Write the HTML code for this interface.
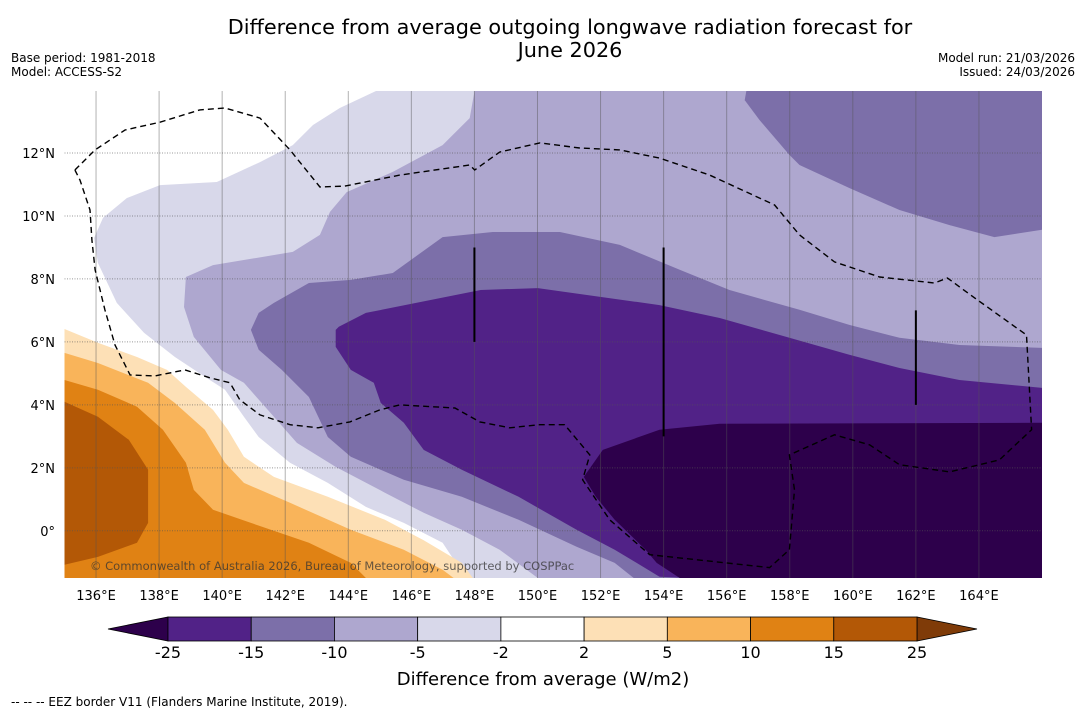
<!DOCTYPE html>
<html><head><meta charset="utf-8">
<style>
body{margin:0;background:#fff;width:1085px;height:713px;overflow:hidden;font-family:"Liberation Sans","DejaVu Sans",sans-serif;}
svg text{font-family:"DejaVu Sans","Liberation Sans",sans-serif;}
</style></head>
<body>
<svg id="c" width="1085" height="713" viewBox="0 0 1085 713">
<text x="570" y="34" text-anchor="middle" font-size="20.8">Difference from average outgoing longwave radiation forecast for</text>
<text x="570" y="57" text-anchor="middle" font-size="20.8">June 2026</text>
<text x="11" y="62" font-size="12">Base period: 1981-2018</text>
<text x="11" y="76" font-size="12">Model: ACCESS-S2</text>
<text x="1075" y="62" font-size="12" text-anchor="end">Model run: 21/03/2026</text>
<text x="1075" y="76" font-size="12" text-anchor="end">Issued: 24/03/2026</text>
<g id="map"></g>
<g id="cb"></g>
<text x="543" y="685" text-anchor="middle" font-size="18">Difference from average (W/m2)</text>
<text x="11" y="706" font-size="12">--  --  -- EEZ border V11 (Flanders Marine Institute, 2019).</text>
</svg>
<script>
// ---- data ----
const lonTicks=[136,138,140,142,144,146,148,150,152,154,156,158,160,162,164];
const latTicks=[12,10,8,6,4,2,0];
const levels=[-25,-15,-10,-5,-2,2,5,10,15,25];
const levelColors=['#512287','#7c6fa9','#aea7cf','#d8d8ea','#ffffff','#fde0b6','#f9b45a','#e08214','#b35806'];
const extLowColor='#2d004b', extHighColor='#7f3b08';
const regionMinus2=[[144.94,14],[166,14],[166,-1.5],[147.73,-1.5],[146.99,-0.38],[145.76,0.25],[144.56,0.76],[143.35,1.52],[142.15,2.16],[141.16,2.98],[140.69,3.62],[140.09,4.48],[139.45,4.89],[138.5,5.52],[137.52,6.29],[136.66,7.24],[136.06,8.51],[135.94,9.3],[136.22,9.94],[136.98,10.57],[138.03,10.98],[139.83,11.08],[141.2,11.71],[142.24,12.25],[142.88,12.89],[143.73,13.43]];
const regionMinus5=[[148.01,14],[166,14],[166,-1.5],[150.01,-1.5],[148.8,-0.6],[147.6,0.03],[146.39,0.57],[145.16,1.21],[143.6,2.03],[142.37,2.79],[141.64,3.62],[140.69,4.7],[139.96,5.11],[139.1,6.16],[138.79,7.11],[138.85,8.06],[139.71,8.44],[142.24,8.86],[143.1,9.4],[143.42,10.13],[143.95,10.76],[145.41,11.4],[146.99,12.25],[147.85,13.11]];
const regionMinus10=[[140.91,6.38],[141.16,6.92],[141.64,7.24],[142.75,7.87],[144.08,7.97],[145.41,8.19],[146.99,9.33],[148.58,9.49],[150.71,9.49],[152.61,9.08],[154.51,8.29],[156.09,7.65],[158.31,7.02],[159.89,6.54],[161.48,6.13],[163.38,5.9],[166,5.81],[166,-1.5],[153.05,-1.5],[152.45,-1.02],[151.24,-0.51],[149.4,0.35],[147.6,1.08],[145.76,1.62],[144.08,2.35],[143.35,2.98],[142.75,4.25],[141.89,5.11],[141.16,5.75]];
const regionMinus10North=[[156.63,14],[166,14],[166,9.56],[164.49,9.33],[163.07,9.71],[161.48,10.19],[159.89,10.89],[158.31,11.62],[157.99,11.94],[157.04,13.05],[156.57,13.68]];
const regionMinus5Notch=[[158.15,14],[158.31,13.59],[161.8,13.75],[163.38,14]];
const regionMinus15=[[143.6,6.38],[143.7,6.48],[144.56,6.92],[148.2,7.65],[150.01,7.71],[153.87,7.17],[155.78,6.76],[157.68,6.22],[159.89,5.59],[161.48,5.17],[163.38,4.79],[166,4.54],[166,-1.5],[154.82,-1.5],[153.87,-1.46],[152.45,-0.6],[151.24,0.03],[149.4,1.08],[147.6,1.94],[146.39,2.57],[145.76,3.43],[145.03,4.06],[144.81,4.7],[144.08,5.11],[143.6,5.84]];
const regionMinus25=[[153.87,3.21],[155.78,3.4],[166,3.43],[166,-1.5],[154.51,-1.5],[153.78,-1.02],[153.43,-0.6],[152.45,0.35],[151.85,1.08],[151.47,1.71],[152.07,2.57]];
const regionPlus2=[[135,6.41],[136.06,5.97],[137.3,5.52],[138.25,5.11],[138.85,4.57],[139.71,3.84],[140.18,3.21],[140.69,2.35],[141.64,1.71],[143.35,1.08],[145.16,0.35],[146.39,-0.3],[147.6,-1.02],[147.95,-1.5],[135,-1.5]];
const regionPlus5=[[135,5.65],[136.06,5.33],[137.65,4.7],[138.5,4.06],[139.45,3.21],[140.09,2.16],[140.69,1.52],[142.15,0.89],[144.08,0.03],[145.76,-0.6],[146.99,-1.24],[147.34,-1.5],[135,-1.5]];
const regionPlus10=[[135,4.79],[136.06,4.48],[137.3,3.94],[138.12,3.21],[138.85,2.16],[139.1,1.3],[139.71,0.67],[140.91,0.25],[142.75,-0.38],[144.08,-1.02],[144.56,-1.5],[135,-1.5]];
const regionPlus15=[[135,4.1],[136.06,3.62],[137.04,2.89],[137.65,1.94],[137.65,0.25],[137.3,-0.38],[136.06,-0.83],[135,-1.08]];
const eezBorder=[[135.33,11.46],[135.97,12.1],[136.92,12.73],[138.03,12.98],[139.29,13.37],[140.09,13.43],[141.2,13.11],[142.15,12.1],[143.1,10.92],[143.89,10.95],[145.63,11.3],[147.85,11.62],[148.01,11.46],[148.8,12.03],[150.07,12.32],[151.34,12.16],[152.61,12.1],[153.87,11.84],[155.46,11.3],[157.52,10.35],[158.31,9.4],[159.42,8.54],[160.85,8.06],[162.59,7.87],[163,8.03],[163.86,7.4],[165.51,6.22],[165.67,3.21],[164.65,2.25],[163.07,1.87],[161.48,2.1],[160.53,2.73],[159.42,3.05],[157.99,2.41],[158.15,1.3],[157.99,-0.6],[157.36,-1.17],[153.56,-0.76],[152.29,0.35],[151.43,1.62],[151.66,2.41],[150.86,3.37],[150.07,3.37],[149.12,3.27],[148.17,3.46],[147.38,3.9],[145.63,4.0],[145,3.84],[144.05,3.46],[143.04,3.27],[142.15,3.37],[141.2,3.68],[140.56,4.16],[140.25,4.7],[139.61,4.86],[138.82,5.11],[137.87,4.92],[137.08,4.95],[136.6,5.9],[136.28,7.02],[135.97,8.29],[135.87,9.24],[135.81,10.19],[135.49,11.14],[135.33,11.46]];
const islandLines=[[148,9,6],[154,9,3],[162,7,4]];
// ---- axes ----
const X0=64.5,X1=1042,Y0=91,Y1=578,LON0=135,LON1=166,LAT0=-1.5,LAT1=13.97;
function xs(lon){return X0+(lon-LON0)/(LON1-LON0)*(X1-X0);}
function ys(lat){return Y1-(lat-LAT0)/(LAT1-LAT0)*(Y1-Y0);}
const NS='http://www.w3.org/2000/svg';
function mk(tag,attrs,parent){const e=document.createElementNS(NS,tag);for(const k in attrs)e.setAttribute(k,attrs[k]);parent.appendChild(e);return e;}
const map=document.getElementById('map');
function poly(pts,fill,name){
  const p=mk('polygon',{points:pts.map(q=>xs(q[0]).toFixed(1)+','+ys(q[1]).toFixed(1)).join(' '),fill:fill},map);
  
  
}
const clip=mk('clipPath',{id:'mc'},mk('defs',{},map));
mk('rect',{x:X0,y:Y0,width:X1-X0,height:Y1-Y0},clip);
map.setAttribute('clip-path','url(#mc)');
const bg=mk('rect',{x:X0,y:Y0,width:X1-X0,height:Y1-Y0,fill:levelColors[4]},map);


poly(regionMinus2,levelColors[3],'contour-minus2');
poly(regionMinus5,levelColors[2],'contour-minus5');
poly(regionMinus5Notch,levelColors[2],'contour-minus5-notch');
poly(regionMinus10,levelColors[1],'contour-minus10');
poly(regionMinus10North,levelColors[1],'contour-minus10-north');
poly(regionMinus15,levelColors[0],'contour-minus15');
poly(regionMinus25,extLowColor,'contour-minus25');
poly(regionPlus2,levelColors[5],'contour-plus2');
poly(regionPlus5,levelColors[6],'contour-plus5');
poly(regionPlus10,levelColors[7],'contour-plus10');
poly(regionPlus15,levelColors[8],'contour-plus15');
// gridlines
lonTicks.forEach(l=>{
  const g=mk('line',{x1:xs(l),x2:xs(l),y1:Y0,y2:Y1,stroke:'#555','stroke-opacity':0.45,'stroke-width':1},map);
  
  
});
latTicks.forEach(l=>{
  const g=mk('line',{x1:X0,x2:X1,y1:ys(l),y2:ys(l),stroke:'#555','stroke-opacity':0.6,'stroke-width':1,'stroke-dasharray':'1,1.5'},map);
  
  
});
islandLines.forEach(d=>{
  const g=mk('line',{x1:xs(d[0]),x2:xs(d[0]),y1:ys(d[1]),y2:ys(d[2]),stroke:'#000','stroke-width':2},map);
  
  
});
const eez=mk('polyline',{points:eezBorder.map(q=>xs(q[0]).toFixed(1)+','+ys(q[1]).toFixed(1)).join(' '),fill:'none',stroke:'#000','stroke-width':1.4,'stroke-dasharray':'6,4'},map);


const cp=mk('text',{x:90,y:570,'font-size':11.5,fill:'#333','fill-opacity':0.75},map);
cp.textContent='© Commonwealth of Australia 2026, Bureau of Meteorology, supported by COSPPac';


const svg=document.getElementById('c');
lonTicks.forEach(l=>{
  const t=mk('text',{x:xs(l),y:600,'text-anchor':'middle','font-size':13},svg);
  t.textContent=l+'°E';
  
  
});
latTicks.forEach(l=>{
  const t=mk('text',{x:55,y:ys(l)+5,'text-anchor':'end','font-size':13},svg);
  t.textContent=l===0?'0°':l+'°N';
  
  
});
// colorbar
const cb=document.getElementById('cb');
const CB0=168,CB1=917,CBY=617,CBH=24,n=levels.length-1,w=(CB1-CB0)/n;
const tl=mk('polygon',{points:`108,${CBY+CBH/2} ${CB0},${CBY} ${CB0},${CBY+CBH}`,fill:extLowColor,stroke:'#000','stroke-width':0.8},cb);


const tr=mk('polygon',{points:`977,${CBY+CBH/2} ${CB1},${CBY} ${CB1},${CBY+CBH}`,fill:extHighColor,stroke:'#000','stroke-width':0.8},cb);


levelColors.forEach((c,i)=>{
  const r=mk('rect',{x:CB0+i*w,y:CBY,width:w,height:CBH,fill:c,stroke:'#000','stroke-width':0.8},cb);
  
  
});
levels.forEach((v,i)=>{
  const t=mk('text',{x:CB0+i*w,y:658,'text-anchor':'middle','font-size':16},cb);
  t.textContent=v;
  
  
});
</script>
</body></html>
